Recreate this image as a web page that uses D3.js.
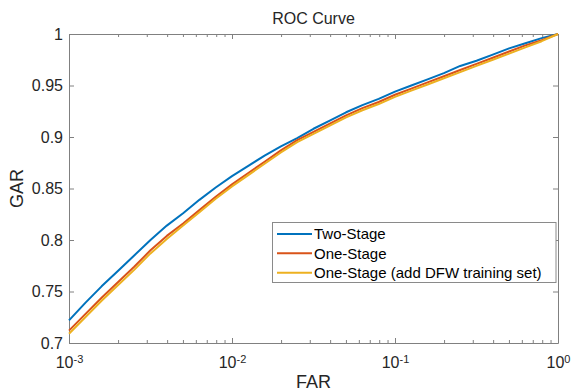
<!DOCTYPE html>
<html>
<head>
<meta charset="utf-8">
<script src="https://cdn.jsdelivr.net/npm/d3@7"></script>
<style>
  html, body { margin: 0; padding: 0; background: #fff; }
  svg { display: block; font-family: "Liberation Sans", Arial, Helvetica, sans-serif; }
</style>
</head>
<body>
<svg id="chart" width="572" height="392"></svg>
<script>
// ---- data ----
const far = [0.001, 0.001259, 0.001585, 0.001995, 0.002512, 0.003162, 0.003981, 0.005012, 0.00631, 0.007943,
             0.01, 0.01259, 0.01585, 0.01995, 0.02512, 0.03162, 0.03981, 0.05012, 0.0631, 0.07943,
             0.1, 0.1259, 0.1585, 0.1995, 0.2512, 0.3162, 0.3981, 0.5012, 0.631, 0.7943, 1.0];
const garTwoStage = [0.722, 0.739, 0.755, 0.770, 0.785, 0.800, 0.814, 0.826, 0.839, 0.851,
                     0.862, 0.872, 0.882, 0.891, 0.899, 0.908, 0.916, 0.924, 0.931, 0.937,
                     0.944, 0.950, 0.956, 0.962, 0.969, 0.974, 0.980, 0.986, 0.991, 0.996, 1.0];
const garOneStage = [0.712, 0.728, 0.744, 0.759, 0.774, 0.790, 0.804, 0.816, 0.829, 0.842,
                     0.854, 0.865, 0.876, 0.887, 0.897, 0.905, 0.913, 0.921, 0.928, 0.934,
                     0.941, 0.947, 0.953, 0.959, 0.965, 0.971, 0.977, 0.983, 0.989, 0.994, 1.0];
const garOneStageDFW = [0.709, 0.725, 0.741, 0.756, 0.771, 0.787, 0.801, 0.814, 0.827, 0.840,
                        0.852, 0.863, 0.874, 0.885, 0.895, 0.903, 0.911, 0.919, 0.926, 0.932,
                        0.939, 0.945, 0.951, 0.957, 0.963, 0.969, 0.975, 0.981, 0.987, 0.993, 1.0];
const seriesNames = ["Two-Stage", "One-Stage", "One-Stage (add DFW training set)"];
const seriesColors = ["#0072BD", "#D95319", "#EDB120"];
const xMajorTicks = [0.001, 0.01, 0.1, 1];
const xTickExponents = ["-3", "-2", "-1", "0"];
const yTicks = [0.7, 0.75, 0.8, 0.85, 0.9, 0.95, 1];
const yTickLabels = ["0.7", "0.75", "0.8", "0.85", "0.9", "0.95", "1"];

// ---- layout ----
const svg = d3.select("#chart");
const L = 69, R = 558, T = 34, B = 343;
const x = d3.scaleLog().domain([0.001, 1]).range([L, R]);
const y = d3.scaleLinear().domain([0.7, 1]).range([B, T]);
const axisColor = "#808080", textColor = "#262626";

const minorTicks = [];
[0.001, 0.01, 0.1].forEach(d => { for (let k = 2; k <= 9; k++) minorTicks.push(d * k); });

function styleAxis(g) {
  g.select(".domain").attr("stroke", axisColor).attr("stroke-width", 1);
  g.selectAll(".tick line").attr("stroke", axisColor);
  g.selectAll("text").attr("fill", textColor);
}

// bottom axis with labels
const gx = svg.append("g").attr("transform", `translate(0,${B})`)
  .call(d3.axisBottom(x).tickValues(xMajorTicks).tickSizeInner(-5).tickSizeOuter(0).tickPadding(13.5).tickFormat(() => ""))
  .call(styleAxis);
gx.selectAll(".tick text").each(function(d, i) {
  const t = d3.select(this).attr("font-size", 16).attr("font-family", null);
  t.append("tspan").text("10");
  t.append("tspan").attr("dy", "-0.45em").attr("font-size", 11).text(xTickExponents[i]);
});
svg.append("g").attr("transform", `translate(0,${B})`)
  .call(d3.axisBottom(x).tickValues(minorTicks).tickSizeInner(-3).tickSizeOuter(0).tickFormat(() => ""))
  .call(styleAxis).select(".domain").remove();

// top axis
svg.append("g").attr("transform", `translate(0,${T})`)
  .call(d3.axisTop(x).tickValues(xMajorTicks).tickSizeInner(-5).tickSizeOuter(0).tickFormat(() => ""))
  .call(styleAxis);
svg.append("g").attr("transform", `translate(0,${T})`)
  .call(d3.axisTop(x).tickValues(minorTicks).tickSizeInner(-3).tickSizeOuter(0).tickFormat(() => ""))
  .call(styleAxis).select(".domain").remove();

// left axis
svg.append("g").attr("transform", `translate(${L},0)`)
  .call(d3.axisLeft(y).tickValues(yTicks).tickSizeInner(-5).tickSizeOuter(0).tickPadding(6)
        .tickFormat((d, i) => yTickLabels[i]))
  .call(styleAxis)
  .selectAll(".tick text").attr("font-size", 16).attr("font-family", null);

// right axis
svg.append("g").attr("transform", `translate(${R},0)`)
  .call(d3.axisRight(y).tickValues(yTicks).tickSizeInner(-5).tickSizeOuter(0).tickFormat(() => ""))
  .call(styleAxis);

// lines
const allSeries = [garTwoStage, garOneStage, garOneStageDFW];
const line = d3.line().x(d => x(d[0])).y(d => y(d[1]));
allSeries.forEach((vals, i) => {
  svg.append("path")
    .datum(far.map((f, j) => [f, vals[j]]))
    .attr("fill", "none")
    .attr("stroke", seriesColors[i])
    .attr("stroke-width", 2)
    .attr("stroke-linejoin", "round")
    .attr("d", line);
});

// title & labels
svg.append("text").attr("x", (L + R) / 2).attr("y", 24).attr("text-anchor", "middle")
  .attr("font-size", 16).attr("fill", textColor).text("ROC Curve");
svg.append("text").attr("x", (L + R) / 2).attr("y", 388).attr("text-anchor", "middle")
  .attr("font-size", 18).attr("fill", textColor).text("FAR");
svg.append("text").attr("transform", `translate(23,${(T + B) / 2}) rotate(-90)`).attr("text-anchor", "middle")
  .attr("font-size", 18).attr("fill", textColor).text("GAR");

// legend
const lg = svg.append("g");
lg.append("rect").attr("x", 272.5).attr("y", 222.5).attr("width", 283.5).attr("height", 60)
  .attr("fill", "#fff").attr("stroke", "#8a8a8a").attr("stroke-width", 1);
const rowY = [234, 253.3, 272.7];
seriesNames.forEach((name, i) => {
  lg.append("line").attr("x1", 277).attr("x2", 312).attr("y1", rowY[i]).attr("y2", rowY[i])
    .attr("stroke", seriesColors[i]).attr("stroke-width", 2);
  lg.append("text").attr("x", 314).attr("y", rowY[i]).attr("dy", "0.35em")
    .attr("font-size", 15).attr("fill", "#000").text(name);
});
</script>
</body>
</html>
